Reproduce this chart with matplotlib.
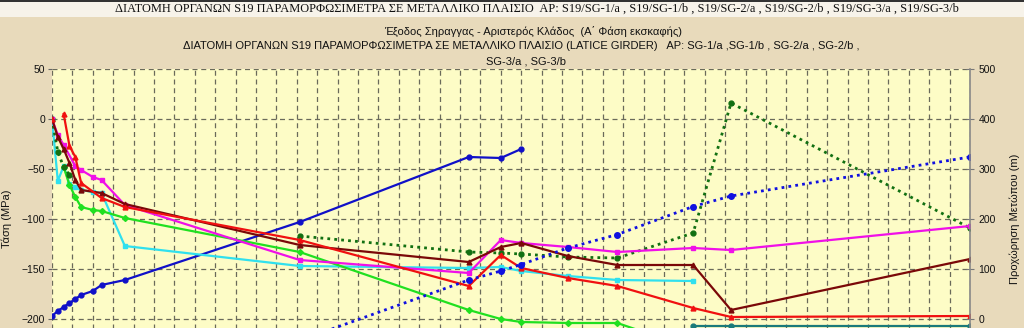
import matplotlib
matplotlib.use("Agg")
import matplotlib.pyplot as plt
from matplotlib import font_manager
import numpy as np
from matplotlib.patches import Rectangle

# ---------------- data (x = days from zero reading) ----------------
days_blue = [0, 2, 4, 6, 8, 10, 14, 17, 25, 85, 143, 154, 161]
sg_blue = [-197, -192, -188, -184, -180, -176, -172, -166, -161, -103, -38, -39, -30]

# reading on day 2 missing for the red gauge (gap in its line)
days_red = [0, 2, 4, 6, 8, 10, 17, 25, 85, 143, 154, 161, 177, 194, 220, 233, 315]
sg_red = [0, np.nan, 5, -27, -38, -64, -79, -88, -121, -167, -136, -149, -159, -167, -189, -198, -197]

days_maroon = [0, 2, 4, 6, 8, 10, 17, 25, 85, 143, 154, 161, 177, 194, 220, 233, 315]
sg_maroon = [0, -18, -30, -44, -61, -71, -74, -85, -126, -143, -128, -124, -137, -146, -146, -191, -140]

days_magenta = [0, 2, 4, 8, 10, 14, 17, 25, 85, 143, 154, 161, 177, 194, 220, 233, 315]
sg_magenta = [0, -16, -26, -47, -51, -58, -61, -86, -141, -154, -121, -124, -128, -133, -129, -131, -107]

days_cyan = [0, 2, 4, 6, 8, 10, 14, 17, 25, 85, 143, 154, 161, 177, 194, 220]
sg_cyan = [0, -62, -47, -65, -68, -71, -73, -74, -127, -147, -149, -148, -152, -157, -161, -162]

days_green = [4, 6, 8, 10, 14, 17, 25, 85, 143, 154, 161, 177, 194, 220]
sg_green = [-48, -66, -78, -88, -91, -92, -99, -133, -191, -200, -203, -204, -204, -230]

days_dkgreen_early = [0, 2, 4, 6]
sg_dkgreen_early = [0, -33, -48, -56]
days_dkgreen = [85, 143, 154, 161, 177, 194, 220, 233, 315]
sg_dkgreen = [-117, -133, -134, -135, -138, -139, -114, 16, -109]

days_face = [85, 143, 154, 161, 177, 194, 220, 233, 315]
face_blue = [-43, 78, 96, 109, 142, 169, 225, 246, 324]

days_teal = [220, 233, 315]
face_teal = [-13, -13, -13]

# ---------------- fonts ----------------
avail = {f.name for f in font_manager.fontManager.ttflist}
SANS = 'Liberation Sans' if 'Liberation Sans' in avail else 'DejaVu Sans'
NARROW = 'Liberation Sans Narrow' if 'Liberation Sans Narrow' in avail else SANS
SERIF = 'Liberation Serif' if 'Liberation Serif' in avail else 'DejaVu Serif'

# ---------------- figure ----------------
W, H = 1024, 328
fig = plt.figure(figsize=(W / 100, H / 100), dpi=100)
fig.patch.set_facecolor('#E8DABB')

# header band
fig.patches.append(Rectangle((0, 1 - 17 / H), 1, 17 / H, transform=fig.transFigure,
                             facecolor='#F7F3EA', edgecolor='none', zorder=0))
fig.patches.append(Rectangle((0, 1 - 2 / H), 1, 2 / H, transform=fig.transFigure,
                             facecolor='#333333', edgecolor='none', zorder=0))

ax = fig.add_axes([52 / W, 1 - 369 / H, (970 - 52) / W, 300 / H])
ax.set_facecolor('#FDFCC6')
ax.set_xlim(0, 315)
ax.set_ylim(-250, 50)
ax.set_xticks(np.arange(0, 316, 7))
ax.set_yticks(np.arange(-200, 51, 50))
ax.tick_params(axis='x', length=0, labelbottom=False)
ax.tick_params(axis='y', length=3, width=0.8, color='#666666', labelsize=7.5, pad=2,
               labelcolor='#111111')
for lab in ax.get_yticklabels():
    lab.set_family(SANS)
ax.grid(True, color='#6a6a5a', linestyle=(0, (4, 3)), linewidth=0.9)
for s in ['top', 'bottom', 'left', 'right']:
    ax.spines[s].set_visible(False)
ax.set_ylabel('Τάση (MPa)', fontsize=8, color='#111111', family=SANS)
ax.yaxis.set_label_coords(-(52 - 12) / 918, 0.5)

ax2 = ax.twinx()
ax2.set_ylim(-100, 500)
ax2.set_yticks(np.arange(0, 501, 100))
ax2.tick_params(axis='y', direction='inout', length=6, width=0.8, color='#777777',
                labelsize=7.5, pad=3, labelcolor='#111111')
for lab in ax2.get_yticklabels():
    lab.set_family(SANS)
for s in ['top', 'bottom', 'left']:
    ax2.spines[s].set_visible(False)
ax2.spines['right'].set_color('#888888')
ax2.spines['right'].set_linewidth(1.2)
ax2.set_ylabel('Προχώρηση Μετώπου (m)', fontsize=8, color='#111111', rotation=90, family=SANS)
ax2.yaxis.set_label_coords(1 + (1010 - 970) / 918, 0.5)

lw = 1.6
ms = 3.5
dot = (0, (1, 1.5))
ax.plot(days_blue, sg_blue, color='#1010C8', lw=lw, marker='o', ms=ms)
ax.plot(days_cyan, sg_cyan, color='#30E0EE', lw=lw, marker='s', ms=ms)
ax.plot(days_green, sg_green, color='#20E020', lw=lw, marker='D', ms=3)
ax.plot(days_dkgreen_early, sg_dkgreen_early, color='#127012', lw=2, ls=dot, marker='o', ms=ms)
ax.plot(days_dkgreen, sg_dkgreen, color='#127012', lw=2, ls=dot, marker='o', ms=ms)
ax.plot(days_magenta, sg_magenta, color='#F010E8', lw=lw, marker='s', ms=ms)
ax.plot(days_maroon, sg_maroon, color='#7A0808', lw=lw, marker='^', ms=ms)
ax.plot(days_red, sg_red, color='#F01010', lw=lw, marker='^', ms=ms)
ax2.plot(days_face, face_blue, color='#1010E0', lw=2, ls=dot, marker='o', ms=4)
ax2.plot(days_teal, face_teal, color='#1A7A7A', lw=lw, marker='o', ms=ms)

# ---------------- texts ----------------
renderer = fig.canvas.get_renderer()


def put(xc, yc, s, **kw):
    return fig.text(xc / W, 1 - yc / H, s, ha='center', va='center', **kw)


def fit(t, width_px):
    bb = t.get_window_extent(renderer)
    t.set_fontsize(t.get_fontsize() * width_px / bb.width)
    return t.get_fontsize()


t0 = put(537, 9, 'ΔΙΑΤΟΜΗ ΟΡΓΑΝΩΝ S19 ΠΑΡΑΜΟΡΦΩΣΙΜΕΤΡΑ ΣΕ ΜΕΤΑΛΛΙΚΟ ΠΛΑΙΣΙΟ  ΑΡ: S19/SG-1/a , '
         'S19/SG-1/b , S19/SG-2/a , S19/SG-2/b , S19/SG-3/a , S19/SG-3/b',
         family=SERIF, fontsize=10, color='#111111')
fit(t0, 847)
t2 = put(521, 46, 'ΔΙΑΤΟΜΗ ΟΡΓΑΝΩΝ S19 ΠΑΡΑΜΟΡΦΩΣΙΜΕΤΡΑ ΣΕ ΜΕΤΑΛΛΙΚΟ ΠΛΑΙΣΙΟ (LATICE GIRDER)   '
         'ΑΡ: SG-1/a ,SG-1/b , SG-2/a , SG-2/b ,', family=NARROW, fontsize=8, color='#111111')
fs = fit(t2, 679)
put(533, 31, 'Έξοδος Σηραγγας - Αριστερός Κλάδος  (Α΄ Φάση εκσκαφής)',
    family=NARROW, fontsize=fs, color='#111111')
put(526, 61, 'SG-3/a , SG-3/b', family=NARROW, fontsize=fs, color='#111111')

fig.savefig('out.png', dpi=100, facecolor=fig.get_facecolor())
